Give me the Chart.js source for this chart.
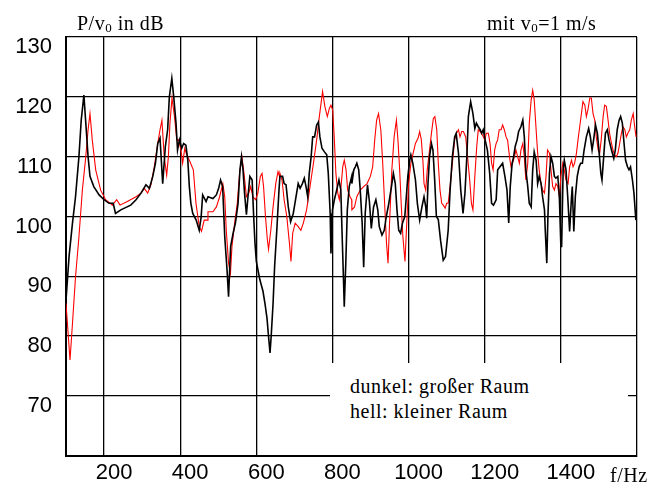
<!DOCTYPE html>
<html>
<head>
<meta charset="utf-8">
<script src="https://cdn.jsdelivr.net/npm/chart.js@4.4.1/dist/chart.umd.min.js"></script>
<style>
  body { margin: 0; background: #fff; }
  #wrap { position: relative; width: 657px; height: 483px; background: #fff; overflow: hidden; }
  #chart { position: absolute; left: 0; top: 0; }
  .txt { position: absolute; font-family: "Liberation Serif", "Times New Roman", serif; font-size: 20px;
         line-height: 19px; letter-spacing: 0.5px; color: #000; white-space: nowrap; }
  .txt sub { font-size: 13px; vertical-align: -2px; line-height: 0; }
  #legendBox { position: absolute; left: 330px; top: 363px; width: 298px; height: 92px; background: #fff; }
</style>
</head>
<body>
<div id="wrap">
  <canvas id="chart" width="657" height="483"></canvas>
  <div id="legendBox"></div>
  <div class="txt" style="left:77px; top:14px;">P/v<sub>0</sub> in dB</div>
  <div class="txt" style="left:487px; top:14px;">mit v<sub>0</sub>=1 m/s</div>
  <div class="txt" style="left:350px; top:377px;">dunkel: großer Raum</div>
  <div class="txt" style="left:350px; top:402px;">hell: kleiner Raum</div>
  <div class="txt" style="left:610px; top:466px;">f/Hz</div>
</div>
<script>
// dunkel: großer Raum
const blackHz = [100, 108, 117, 125, 134, 140, 147, 152, 158, 163, 173, 187, 200, 213, 224, 230, 244, 270,
  284, 297, 310, 319, 328, 335, 341, 347, 354, 361, 367, 371.5, 378, 383, 389, 393, 398, 404, 409, 415, 420, 424, 428, 433, 442, 450, 455, 459, 468,
  473, 486, 495, 501, 506, 511.5, 517, 523, 527, 532.5, 539, 545, 552, 557, 561, 565, 569, 574, 578, 583, 589, 593, 596.5, 600, 609, 617.5, 623, 628, 632, 636, 639, 644, 648, 654, 659.5,
  662, 669, 673, 678, 684, 690, 697, 703, 710, 715, 721, 726, 730.5, 735, 739, 744, 748, 753, 758.5, 763, 767, 772.5, 779, 785, 789, 794, 796, 800, 805, 811, 817, 822, 825, 829, 831, 835, 839, 844, 850.5,
  851, 856, 860, 864, 869, 873, 878, 882, 886, 892, 897, 902, 908, 914, 919, 923, 930, 936, 941.5, 948, 955, 960, 965, 969.5, 974, 979, 984, 990, 994, 998, 1003, 1006, 1011, 1018, 1023, 1029, 1035,
  1040.5, 1045, 1047.5, 1051, 1055, 1060, 1064, 1068.5, 1073, 1078, 1084, 1091, 1097, 1104, 1109, 1115, 1121, 1125, 1131, 1137, 1143, 1148, 1153, 1157, 1163, 1169, 1174, 1178, 1183, 1188, 1192, 1196, 1201, 1207, 1213, 1218, 1223,
  1230, 1234, 1240, 1247, 1253, 1258.5, 1263, 1267, 1272, 1276, 1280, 1285, 1289, 1295, 1300, 1304, 1308, 1313, 1317, 1322, 1326, 1330, 1335, 1339, 1343, 1348, 1352, 1357, 1359, 1363, 1366, 1370, 1374, 1378.5, 1383, 1387, 1392, 1396, 1400, 1402, 1406, 1409, 1413.5, 1418,
  1423, 1428, 1430, 1434, 1438, 1443, 1448, 1452, 1456.5, 1461, 1467, 1473, 1477.5, 1482, 1486, 1491, 1496, 1500, 1505, 1508, 1512.5, 1517, 1522, 1526.5, 1533, 1539, 1543, 1548, 1553, 1557, 1561.5, 1566, 1570, 1575, 1579, 1583, 1588, 1592, 1597];
const blackDb = [86, 93.3, 98.9, 103.3, 110, 116.1, 120.3, 115.6, 110, 106.7, 105, 103.6, 102.8, 102.2, 102.2, 100.5, 101.1, 101.9,
  102.8, 103.9, 105.3, 104.7, 106.7, 108.9, 112.2, 113.1, 105.5, 111.7, 114.5, 120, 123.1, 120, 115.6, 111.1, 112.8, 111.4, 112.2, 111.9, 109.4, 105, 102.2, 100.5, 99.4, 97.7, 99.9, 103.6, 102.5,
  103.3, 103, 103.6, 104.7, 106.1, 105, 96.6, 91.1, 86.6, 95, 97.2, 98.9, 102.2, 107.8, 110, 107.8, 103.9, 100.3, 103.3, 106.7, 106.1, 100, 95.5, 92.5, 89.5, 87.5, 85.3, 83, 80, 77.2, 80, 85.5, 91.6, 98, 104.4,
  106.7, 106.7, 105.5, 105.3, 101.6, 99.1, 100.5, 102.8, 105.5, 104.7, 105.5, 106.4, 105, 103.3, 107.2, 110, 113.3, 113.3, 115.3, 115.8, 113.3, 111.4, 110.8, 110.3, 107.2, 100.5, 93.8, 101.1, 102.8, 104.4, 106.1, 104.4, 97.7, 89.4, 84.9, 92.2, 101.1, 105, 106.7,
  105.5, 107.8, 108.3, 108.9, 107.8, 104.4, 98.9, 91.5, 100.5, 105.3, 102.5, 98, 101.6, 102.8, 101.1, 98.3, 96.9, 97.7, 100, 102.2, 105, 107.2, 105.5, 101.1, 97.7, 97.2, 98.9, 100, 103.3, 106.7, 109.4, 110.3, 108.9, 106.1, 102.2, 99.4, 101.6,
  103.3, 101.6, 99.7, 105.5, 110, 112.2, 111.1, 106.1, 100, 99.5, 96, 92.7, 93.3, 97.7, 104.4, 110, 113.3, 113.9, 110.6, 104.4, 100.5, 103.9, 110, 116.7, 119.2, 117.2, 114.7, 115.6, 115, 114.5, 113.9, 114.5, 112.8, 111.1, 107.2, 102.2, 101.9,
  102.8, 107.8, 108.3, 108.9, 106.7, 104.4, 98.9, 105, 108.9, 110, 111.7, 112.8, 114.2, 115, 116.1, 113.3, 107.8, 105, 102.2, 101.6, 107.8, 110.8, 109.4, 105.5, 106.7, 105.5, 103.3, 101.1, 97.7, 92.2, 100, 107.2, 110, 108.9, 106.7, 106.4, 106.7, 103.3, 95, 95, 107.8, 109.4, 107.8, 103.3,
  97.5, 103.3, 105, 97.5, 103.3, 106.7, 108.3, 108.9, 108.9, 111.1, 113.3, 114.7, 113.3, 111.1, 112.8, 115.3, 113.9, 111.1, 107.2, 106.1, 110, 113.9, 114.5, 112.8, 111.1, 109.7, 111.1, 114.5, 116.1, 116.7, 115.6, 112.2, 109.4, 108.3, 107.8, 108.3, 106.1, 103.9, 99.4];

// hell: kleiner Raum
const redHz = [100, 110.5, 117, 125, 134, 143, 152, 158, 163, 169, 178, 191, 204, 222, 233, 242, 261,
  284, 297, 306, 314.5, 323, 332, 341, 347, 352, 358, 364.5, 369, 373, 378.5, 385, 391, 396, 402, 406.5, 412, 417, 424, 434.5, 441.5, 450, 456, 463, 472,
  473, 486, 495, 503.6, 512, 517, 521, 527, 532, 536, 543, 550, 556, 562, 567.6, 574, 580, 585, 591, 598, 604, 610.5, 615, 619, 624, 629, 632, 638, 644, 651, 657, 661,
  662, 667.5, 673, 680, 687, 691, 695.5, 702, 710, 717, 723.5, 732, 741, 750, 758.5, 765.5, 770, 774, 780, 786.5, 792, 796, 800.6, 805, 809, 814, 818, 822.5, 827, 831, 835.6, 840, 846, 850.5,
  851, 858, 864, 873, 882, 891, 899.5, 905.6, 911, 916, 921, 927, 932, 937, 942, 946, 950, 956, 962, 968, 972, 976.5, 981, 985, 990.5, 996, 1000, 1006, 1012, 1018, 1025, 1029, 1033.5, 1038,
  1040.5, 1045, 1049, 1055, 1060, 1065, 1069, 1074, 1078, 1082.5, 1087, 1091, 1096, 1100, 1104, 1109, 1115, 1121, 1126, 1131, 1135, 1139.5, 1144, 1150, 1154, 1160.5, 1165, 1169, 1174, 1179, 1183, 1188, 1194, 1200, 1204, 1209.5, 1214, 1218, 1222, 1226,
  1230, 1234, 1238, 1243, 1247, 1251.5, 1256, 1260, 1265, 1269, 1273, 1278, 1282, 1286.5, 1291, 1295, 1300, 1304, 1308, 1313, 1317, 1322, 1326, 1330, 1335, 1339, 1343, 1348, 1352, 1357, 1361, 1365, 1370, 1374, 1378.5, 1383, 1387, 1392, 1396, 1400, 1405, 1409, 1413.5,
  1419, 1423, 1428, 1432, 1436, 1441, 1445, 1449.5, 1454, 1458, 1463, 1467, 1471, 1476, 1480, 1484.5, 1489, 1493, 1498, 1502, 1506, 1511, 1515, 1519.5, 1524, 1528, 1533, 1537, 1541, 1546, 1550, 1554.5, 1559, 1563, 1568, 1572, 1576, 1581, 1585, 1590, 1594, 1597.5];
const redDb = [85.5, 76, 82.1, 89.9, 96.6, 104.4, 110, 114.5, 117.2, 112.8, 107.8, 104.4, 102.8, 101.9, 102.8, 101.9, 102.5,
  103.3, 103.9, 104.7, 103.9, 105.3, 108.3, 112.2, 114.5, 116.1, 110, 106.9, 110, 115.6, 119.8, 116.7, 112.8, 112.8, 111.1, 108.9, 111.4, 110.3, 109.4, 107.8, 102.2, 98.3, 97.5, 99.4, 99.4,
  100.8, 100.8, 101.6, 103.3, 105.5, 103.3, 97.7, 92.2, 90.5, 95, 98.9, 102.2, 107.2, 110, 107.2, 103.3, 103.9, 105, 103.3, 102.8, 103.9, 106.7, 107.2, 105, 100, 96.1, 94.5, 97.7, 101.6, 105.5, 107.5, 106.7,
  107.2, 106.1, 102.8, 100, 95.5, 92.5, 97.2, 98.9, 98.3, 97.7, 98.9, 101.1, 105, 108.9, 112.8, 116.7, 118.9, 120.9, 118.4, 116.7, 118.1, 118.6, 117.8, 112.8, 107.2, 103.9, 102.8, 105, 108.3, 109.4, 107.8, 104.4, 103.3, 102.8,
  101.1, 101.6, 103.3, 104.4, 105, 105.5, 106.7, 108.3, 112.8, 116.1, 117.2, 114.5, 108.9, 102.2, 95.5, 92.2, 98.9, 107.8, 113.3, 116.1, 112.8, 107.8, 101.6, 96.6, 92.5, 100, 105.5, 108.9, 110.6, 112.2, 113.1, 114.2, 112.8, 108.9,
  105.5, 104.4, 107.8, 111.1, 113.9, 116.4, 116.7, 114.5, 108.9, 104.4, 102.2, 101.9, 101.4, 102.2, 102.2, 105, 108.9, 112.8, 113.9, 114.5, 113.3, 114.2, 114.2, 113.3, 110.6, 106.1, 102.2, 101.1, 106.7, 111.7, 114.5, 114.2, 113.6, 112.8, 113.9, 113.9, 112.2, 108.9, 107.8, 111.1,
  112.2, 112.8, 114.5, 114.5, 115.3, 114.5, 113.3, 112.8, 110, 108.3, 108.9, 110, 111.1, 110, 108.9, 111.1, 112.2, 110, 106.1, 108.9, 115.6, 119.5, 121.1, 119.5, 114.5, 110.6, 107.8, 105.5, 104.4, 103.9, 106.7, 111.1, 110.6, 107.8, 105, 104.4, 105.5, 105, 103.3, 106.7, 108.9, 107.8, 106.1,
  105.5, 108.3, 109.4, 108.3, 108.9, 110.6, 112.8, 115, 117.2, 119.2, 118.6, 116.7, 117.8, 119.8, 119.8, 117.2, 116.1, 113.3, 111.1, 110.6, 112.8, 116.7, 118.6, 118.4, 116.1, 113.9, 112.2, 111.1, 110.3, 110, 110.6, 112.2, 113.9, 115, 114.5, 113.3, 113.9, 114.5, 116.1, 117.2, 115, 113.3];

const xTicks = [200, 400, 600, 800, 1000, 1200, 1400, 1600];
const yTicks = [60, 70, 80, 90, 100, 110, 120, 130];

const toPoints = (xs, ys) => xs.map((x, i) => ({ x: x, y: ys[i] }));

const tickFont = { family: '"Liberation Sans", Arial, sans-serif', size: 22 };

new Chart(document.getElementById('chart'), {
  type: 'line',
  data: {
    datasets: [
      {
        label: 'dunkel: großer Raum',
        data: toPoints(blackHz, blackDb),
        borderColor: '#000000',
        borderWidth: 1.6,
        pointRadius: 0,
        tension: 0
      },
      {
        label: 'hell: kleiner Raum',
        data: toPoints(redHz, redDb),
        borderColor: '#ff0000',
        borderWidth: 1.1,
        pointRadius: 0,
        tension: 0
      }
    ]
  },
  options: {
    responsive: false,
    animation: false,
    layout: { padding: { left: 0, right: 20, top: 37, bottom: 0 } },
    plugins: {
      legend: { display: false },
      tooltip: { enabled: false }
    },
    scales: {
      x: {
        type: 'linear',
        min: 100,
        max: 1600,
        afterBuildTicks: s => { s.ticks = xTicks.map(v => ({ value: v })); },
        afterFit: s => { s.height = 27; },
        ticks: {
          callback: v => (v === 1600 ? '' : v),
          font: tickFont,
          color: '#000',
          labelOffset: 10,
          padding: 4,
          maxRotation: 0,
          autoSkip: false
        },
        grid: { color: '#000', lineWidth: 1.3, drawTicks: false },
        border: { color: '#000', width: 2 }
      },
      y: {
        min: 60,
        max: 130,
        afterBuildTicks: s => { s.ticks = yTicks.map(v => ({ value: v })); },
        afterFit: s => { s.width = 66; },
        ticks: {
          callback: v => (v === 60 ? '' : v),
          font: tickFont,
          color: '#000',
          labelOffset: 10,
          padding: 14
        },
        grid: { color: '#000', lineWidth: 1.3, drawTicks: false },
        border: { color: '#000', width: 2 }
      }
    }
  }
});
</script>
</body>
</html>
